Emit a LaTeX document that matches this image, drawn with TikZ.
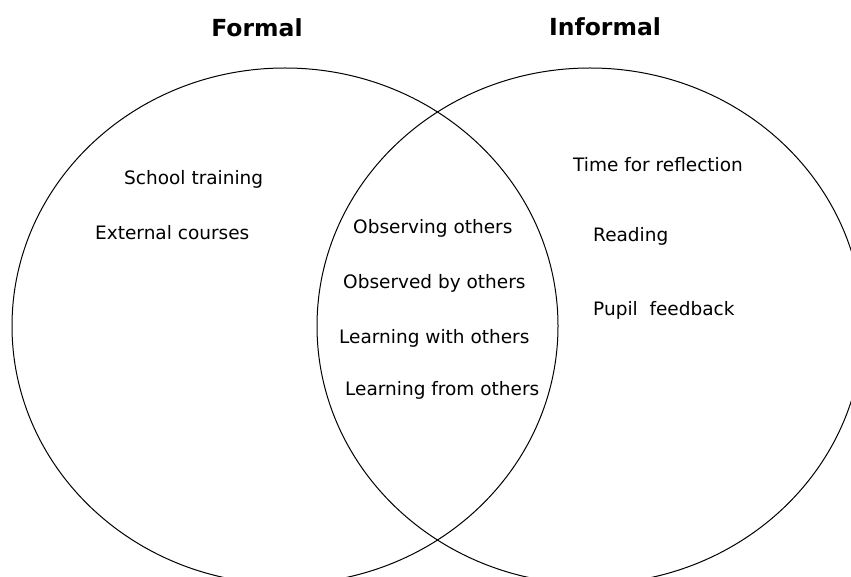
\documentclass[tikz,border=0pt]{standalone}
\usepackage{fontspec}
\setmainfont{DejaVu Sans}
\usetikzlibrary{shapes.geometric}
\begin{document}
\begin{tikzpicture}[x=1pt,y=-1pt,
  setring/.style={draw=black, line width=1pt, ellipse, inner sep=0pt,
    minimum width=546pt, minimum height=516pt},
  itemtext/.style={anchor=base west, inner sep=0pt, font=\fontsize{18.5}{22}\selectfont, text=black},
  titletext/.style={anchor=center, inner sep=0pt, font=\fontsize{23.5}{28}\selectfont\bfseries, text=black}]
\useasboundingbox (0,0) rectangle (851,577);
\clip (0,0) rectangle (851,577);
\fill[white] (0,0) rectangle (851,577);
\node[setring] (formalset) at (285,326) {};
\node[setring] (informalset) at (590,326) {};
\node[titletext] (formal) at (257,28) {Formal};
\node[titletext] (informal) at (605,27) {Informal};
\node[itemtext] (school) at (124,185) {School training};
\node[itemtext] (external) at (95,240) {External courses};
\node[itemtext] (observing) at (353,234) {Observing others};
\node[itemtext] (observed) at (343,288) {Observed by others};
\node[itemtext] (learnwith) at (339,343) {Learning with others};
\node[itemtext] (learnfrom) at (345,395) {Learning from others};
\node[itemtext] (time) at (573,172) {Time for reflection};
\node[itemtext] (reading) at (593,242) {Reading};
\node[itemtext] (pupil) at (593,315) {Pupil\ \ feedback};
\end{tikzpicture}
\end{document}
